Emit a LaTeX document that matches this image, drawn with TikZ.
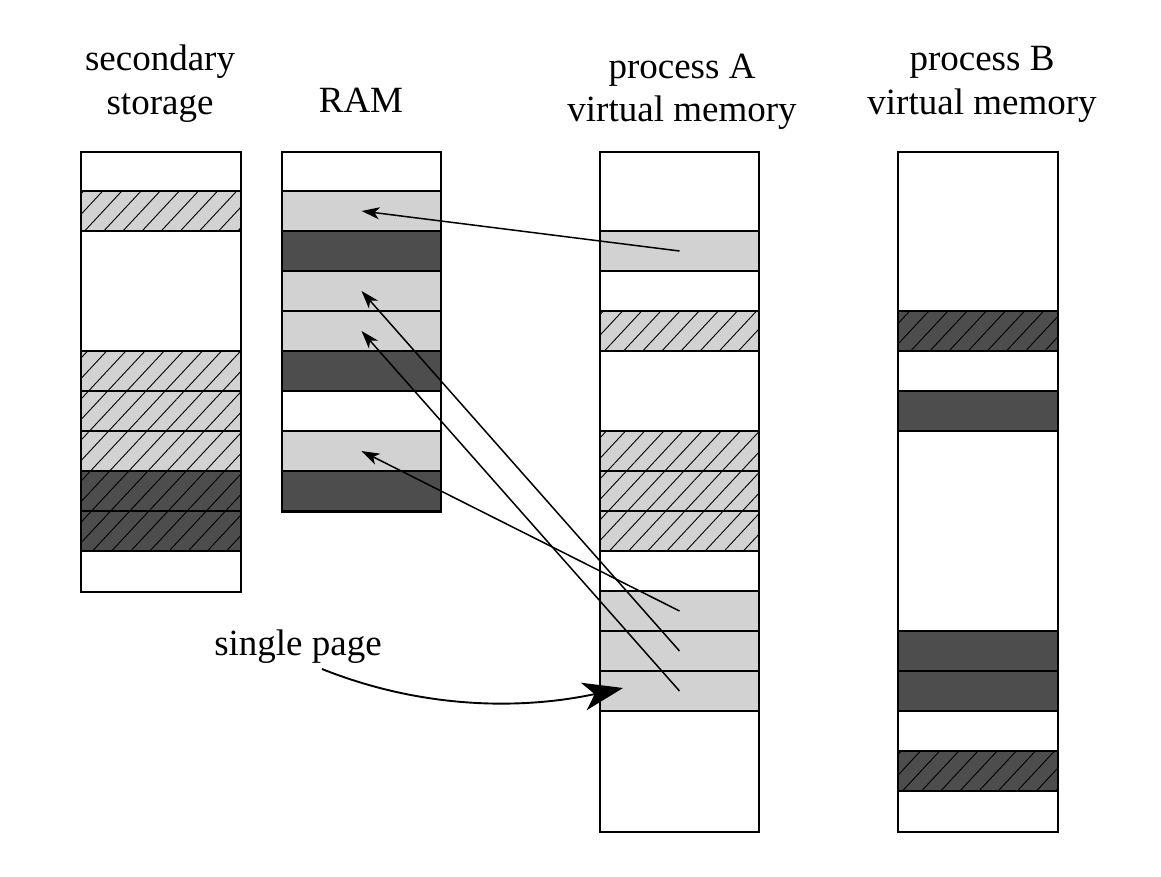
\documentclass[tikz,border=0pt]{standalone}
\usepackage{fontspec}
\setmainfont{Liberation Serif}
\usetikzlibrary{patterns.meta,arrows.meta}
\definecolor{lightblk}{RGB}{210,210,210}
\definecolor{darkblk}{RGB}{77,77,77}
\begin{document}
\begin{tikzpicture}[x=1pt,y=-1pt,
  frame/.style={draw=black,line width=1.8pt,fill=white,inner sep=0pt,anchor=north},
  blk/.style={draw=black,line width=1.8pt,inner sep=0pt,minimum height=40pt},
  lt/.style={fill=lightblk},
  dk/.style={fill=darkblk},
  hatch/.style={postaction={pattern={Lines[angle=47,distance=14pt,line width=0.9pt]},pattern color=black}},
  wS/.style={minimum width=160pt},
  wR/.style={minimum width=159pt},
  wA/.style={minimum width=159pt},
  wB/.style={minimum width=160pt},
  head/.style={font=\fontsize{37}{44}\selectfont,anchor=base,inner sep=0pt},
  arr/.style={line width=1.5pt,-{Stealth[length=18pt,width=12pt,inset=5pt]}},
  bigarr/.style={line width=1.9pt,-{Stealth[length=40pt,width=28pt,inset=11pt]}}
]
\useasboundingbox (0,0) rectangle (1161,876);
\fill[white] (0,0) rectangle (1161,876);

% headings
\node[head] (hS1) at (160,70) {secondary};
\node[head] (hS2) at (160,114) {storage};
\node[head] (hR) at (361,112) {RAM};
\node[head] (hA1) at (682,78) {process A};
\node[head] (hA2) at (682,121) {virtual memory};
\node[head] (hB1) at (982,70) {process B};
\node[head] (hB2) at (982,114) {virtual memory};

% frames
\node[frame,wS,minimum height=440pt] (S) at (161,151) {};
\node[frame,wR,minimum height=360pt] (R) at (361.5,151) {};
\node[frame,wA,minimum height=680pt] (A) at (679.5,151) {};
\node[frame,wB,minimum height=680pt] (B) at (978,151) {};

% secondary storage
\node[blk,wS,lt,hatch] (S1) at (161,211) {};
\node[blk,wS,lt,hatch] (S5) at (161,371) {};
\node[blk,wS,lt,hatch] (S6) at (161,411) {};
\node[blk,wS,lt,hatch] (S7) at (161,451) {};
\node[blk,wS,dk,hatch] (S8) at (161,491) {};
\node[blk,wS,dk,hatch] (S9) at (161,531) {};

% RAM
\node[blk,wR,lt] (R1) at (361.5,211) {};
\node[blk,wR,dk] (R2) at (361.5,251) {};
\node[blk,wR,lt] (R3) at (361.5,291) {};
\node[blk,wR,lt] (R4) at (361.5,331) {};
\node[blk,wR,dk] (R5) at (361.5,371) {};
\node[blk,wR,lt] (R7) at (361.5,451) {};
\node[blk,wR,dk] (R8) at (361.5,491) {};

% process A
\node[blk,wA,lt] (A2) at (679.5,251) {};
\node[blk,wA,lt,hatch] (A4) at (679.5,331) {};
\node[blk,wA,lt,hatch] (A7) at (679.5,451) {};
\node[blk,wA,lt,hatch] (A8) at (679.5,491) {};
\node[blk,wA,lt,hatch] (A9) at (679.5,531) {};
\node[blk,wA,lt] (A11) at (679.5,611) {};
\node[blk,wA,lt] (A12) at (679.5,651) {};
\node[blk,wA,lt] (A13) at (679.5,691) {};

% process B
\node[blk,wB,dk,hatch] (B4) at (978,331) {};
\node[blk,wB,dk] (B6) at (978,411) {};
\node[blk,wB,dk] (B12) at (978,651) {};
\node[blk,wB,dk] (B13) at (978,691) {};
\node[blk,wB,dk,hatch] (B15) at (978,771) {};

% mapping arrows
\draw[arr] (A2.center) -- (R1.center);
\draw[arr] (A11.center) -- (R7.center);
\draw[arr] (A12.center) -- (R3.center);
\draw[arr] (A13.center) -- (R4.center);

% single page label
\node[head] (sp) at (298,655) {single page};
\coordinate (spstart) at (322,669);
\coordinate (sptip) at (623,688);
\draw[bigarr] (spstart) .. controls (430,712) and (530,708) .. (sptip);
\end{tikzpicture}
\end{document}
